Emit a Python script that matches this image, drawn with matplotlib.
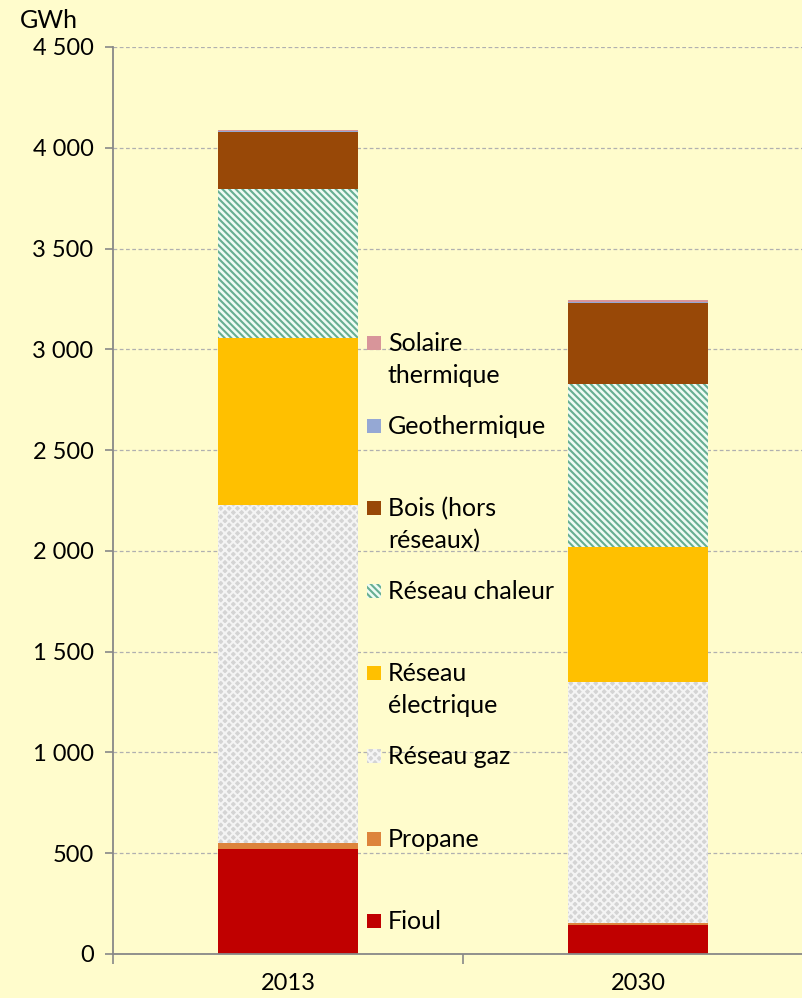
import matplotlib
matplotlib.use("Agg")
import matplotlib.pyplot as plt
from matplotlib.patches import Rectangle
import numpy as np

plt.rcParams['font.family'] = ['Lato', 'DejaVu Sans']
plt.rcParams['hatch.linewidth'] = 1.5

years = ["2013", "2030"]
series = ["Fioul", "Propane", "Réseau gaz", "Réseau\nélectrique", "Réseau chaleur",
          "Bois (hors\nréseaux)", "Geothermique", "Solaire\nthermique"]
values = {
    "Fioul": [519, 144],
    "Propane": [33, 12],
    "Réseau gaz": [1675, 1193],
    "Réseau\nélectrique": [828, 670],
    "Réseau chaleur": [739, 808],
    "Bois (hors\nréseaux)": [283, 402],
    "Geothermique": [4, 8],
    "Solaire\nthermique": [5, 9],
}
styles = {
    "Fioul": dict(facecolor="#C00000", edgecolor="#C00000", hatch=None),
    "Propane": dict(facecolor="#DD843C", edgecolor="#DD843C", hatch=None),
    "Réseau gaz": dict(facecolor="#D4D4D4", edgecolor="#F4F4F4", hatch="xxxx"),
    "Réseau\nélectrique": dict(facecolor="#FFC000", edgecolor="#FFC000", hatch=None),
    "Réseau chaleur": dict(facecolor="#EEFBF4", edgecolor="#66AE92", hatch="\\" * 5),
    "Bois (hors\nréseaux)": dict(facecolor="#984807", edgecolor="#984807", hatch=None),
    "Geothermique": dict(facecolor="#95A8D4", edgecolor="#95A8D4", hatch=None),
    "Solaire\nthermique": dict(facecolor="#D8959A", edgecolor="#D8959A", hatch=None),
}
yticks = [0, 500, 1000, 1500, 2000, 2500, 3000, 3500, 4000, 4500]
yticklabels = ["0", "500", "1 000", "1 500", "2 000", "2 500", "3 000", "3 500", "4 000", "4 500"]

FS = 18
bg = "#FFFCCC"
fig = plt.figure(figsize=(8.02, 9.98), dpi=100, facecolor=bg)
ax = fig.add_axes([113/802, 44/998, 700/802, 907/998], facecolor=bg)

x = np.arange(len(years))
bottom = np.zeros(len(years))
for s in series:
    v = np.array(values[s], dtype=float)
    st = styles[s]
    ax.bar(x, v, width=0.4, bottom=bottom, facecolor=st["facecolor"],
           edgecolor=st["edgecolor"], hatch=st["hatch"], linewidth=0, zorder=3)
    bottom += v

ax.set_xlim(-0.5, 1.5)
ax.set_ylim(0, 4500)
ax.set_yticks(yticks)
ax.set_yticklabels(yticklabels, fontsize=17)
ax.set_xticks(x)
ax.set_xticklabels(years, fontsize=17)
ax.set_xticks([-0.5, 0.5, 1.5], minor=True)
ax.tick_params(axis='x', which='major', length=0, pad=14)
ax.tick_params(axis='x', which='minor', length=7, color="#888888", width=1.2)
ax.tick_params(axis='y', which='major', length=6, color="#888888", width=1.2, pad=8)
ax.grid(axis='y', linestyle=(0, (3, 2)), color="#B0B0B0", linewidth=0.9, zorder=0)
for sp in ["top", "right"]:
    ax.spines[sp].set_visible(False)
for sp in ["left", "bottom"]:
    ax.spines[sp].set_color("#888888")
    ax.spines[sp].set_linewidth(1.3)
ax.spines["bottom"].set_zorder(4)

fig.text(49/802, 1 - 20/998, "GWh", fontsize=FS, ha="center", va="center")

# Manual legend (top entry = last series)
top_py = 343
step_py = 82.6
for i, s in enumerate(reversed(series)):
    py = top_py + i * step_py
    yf = (954 - py) / 907
    st = styles[s]
    ax.add_patch(Rectangle(((367 - 113)/700, yf - 7/907), 14/700, 14/907,
                           transform=ax.transAxes, facecolor=st["facecolor"],
                           edgecolor=st["edgecolor"], hatch=st["hatch"], linewidth=0,
                           clip_on=False, zorder=5))
    ax.text((388 - 113)/700, yf + 11/907, s, transform=ax.transAxes, fontsize=FS,
            ha="left", va="top", linespacing=1.45, zorder=5)

fig.savefig("out.png", dpi=100, facecolor=bg)
